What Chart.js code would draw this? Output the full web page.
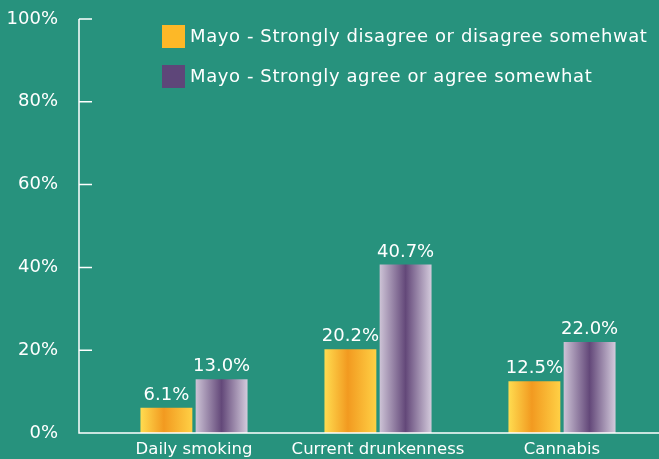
<!DOCTYPE html>
<html lang="en">
<head>
    <meta charset="UTF-8">
    <title>Mayo</title>
    <script src="https://cdn.jsdelivr.net/npm/chart.js"></script>
    <style>
        html, body {
            margin: 0;
            padding: 0;
            background-color: #27927d;
            overflow: hidden;
        }

        #wrap {
            width: 659px;
            height: 459px;
        }
    </style>
</head>
<body>
    <div id="wrap"><canvas id="mayoChart"></canvas></div>

    <script>
        const categories = ["Daily smoking", "Current drunkenness", "Cannabis"];
        const disagreeValues = [6.1, 20.2, 12.5];
        const agreeValues = [13.0, 40.7, 22.0];
        const seriesNames = [
            "Mayo - Strongly disagree or disagree somehwat",
            "Mayo - Strongly agree or agree somewhat"
        ];
        const yTicks = [0, 20, 40, 60, 80, 100];

        const FONT = "'DejaVu Sans', sans-serif";
        const legendColors = ["#fdb827", "#5e4679"];
        const gradStops = [
            [[0, "#ffdc50"], [0.45, "#f29a20"], [1, "#ffd045"]],
            [[0, "#cdc3d6"], [0.5, "#634879"], [1, "#d4cbdc"]]
        ];

        // paint each bar with a horizontal gradient across its own width
        // (options objects are shared between bars, so give each its own copy)
        const barGradients = {
            id: "barGradients",
            beforeDatasetsDraw(chart) {
                const ctx = chart.ctx;
                chart.data.datasets.forEach((ds, i) => {
                    chart.getDatasetMeta(i).data.forEach(el => {
                        const g = ctx.createLinearGradient(el.x - el.width / 2, 0, el.x + el.width / 2, 0);
                        gradStops[i].forEach(s => g.addColorStop(s[0], s[1]));
                        el.options = Object.assign({}, el.options, { backgroundColor: g });
                    });
                });
            }
        };

        // axis lines, tick marks, value labels and the legend
        const decorations = {
            id: "decorations",
            afterDraw(chart) {
                const ctx = chart.ctx;
                const y = chart.scales.y;
                const axisX = 79;

                ctx.save();
                ctx.strokeStyle = "#ffffff";
                ctx.lineWidth = 1.5;
                ctx.beginPath();
                ctx.moveTo(axisX, y.getPixelForValue(100));
                ctx.lineTo(axisX, y.getPixelForValue(0));
                ctx.lineTo(chart.width, y.getPixelForValue(0));
                yTicks.forEach(t => {
                    const py = y.getPixelForValue(t);
                    ctx.moveTo(axisX, py);
                    ctx.lineTo(axisX + 13, py);
                });
                ctx.stroke();

                ctx.fillStyle = "#ffffff";
                ctx.font = "18px " + FONT;
                ctx.textAlign = "center";
                ctx.textBaseline = "alphabetic";
                chart.data.datasets.forEach((ds, i) => {
                    chart.getDatasetMeta(i).data.forEach((el, j) => {
                        ctx.fillText(ds.data[j].toFixed(1) + "%", el.x, el.y - 8);
                    });
                });

                ctx.font = "18px " + FONT;
                ctx.letterSpacing = "0.6px";
                ctx.textAlign = "left";
                ctx.textBaseline = "middle";
                chart.data.datasets.forEach((ds, i) => {
                    const top = 25 + i * 40;
                    ctx.fillStyle = legendColors[i];
                    ctx.fillRect(162, top, 23, 23);
                    ctx.fillStyle = "#ffffff";
                    ctx.fillText(ds.label, 190, top + 12);
                });
                ctx.restore();
            }
        };

        new Chart(document.getElementById("mayoChart"), {
            type: "bar",
            data: {
                labels: categories,
                datasets: [
                    { label: seriesNames[0], data: disagreeValues, backgroundColor: legendColors[0] },
                    { label: seriesNames[1], data: agreeValues, backgroundColor: legendColors[1] }
                ]
            },
            options: {
                responsive: true,
                maintainAspectRatio: false,
                animation: false,
                layout: { padding: { top: 19, right: 5, left: 0, bottom: 0 } },
                datasets: {
                    bar: { categoryPercentage: 0.6, barPercentage: 0.94 }
                },
                plugins: {
                    legend: { display: false },
                    tooltip: { enabled: false }
                },
                scales: {
                    x: {
                        grid: { display: false, drawTicks: false },
                        border: { display: false },
                        ticks: { color: "#ffffff", font: { family: FONT, size: 16.5 }, padding: 7 },
                        afterFit(scale) { scale.height = 26; }
                    },
                    y: {
                        min: 0,
                        max: 100,
                        afterBuildTicks(scale) { scale.ticks = yTicks.map(v => ({ value: v })); },
                        grid: { display: false, drawTicks: true, tickLength: 40 },
                        border: { display: false },
                        ticks: {
                            color: "#ffffff",
                            font: { family: FONT, size: 18 },
                            padding: 4,
                            callback: v => v + "%"
                        },
                        afterFit(scale) { scale.width = 102; }
                    }
                }
            },
            plugins: [barGradients, decorations]
        });
    </script>
</body>
</html>
